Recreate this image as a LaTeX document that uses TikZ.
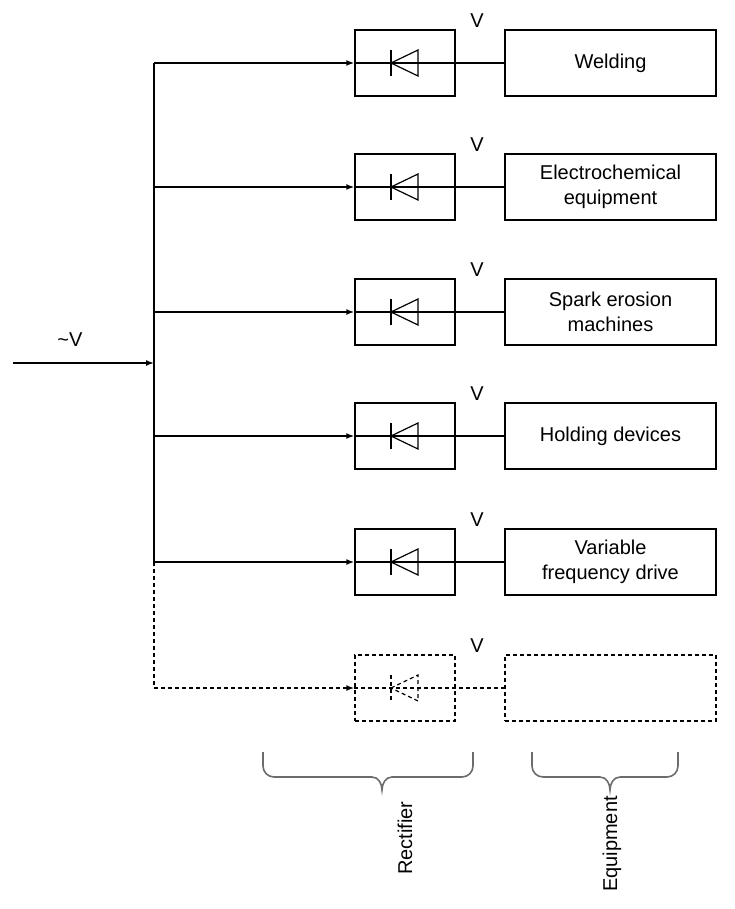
\documentclass[tikz,border=0pt]{standalone}
\usepackage{fontspec}
\setmainfont{Liberation Sans}
\usetikzlibrary{arrows.meta}
\begin{document}
\begin{tikzpicture}[x=1pt, y=-1pt,
  line width=1.5pt,
  every node/.style = {font=\fontsize{20}{25}\selectfont, align=center},
  rect/.style = {draw, minimum width=100pt, minimum height=66pt, inner sep=0pt},
  equip/.style = {draw, minimum width=211pt, minimum height=66pt, inner sep=0pt},
  feed/.style = {-{Latex[length=8pt,width=6pt]}},
  dashline/.style = {dash pattern=on 4pt off 3pt},
  curly/.style = {draw=gray!85!black, line width=1.6pt}
  ]
  \useasboundingbox (0,0) rectangle (734,909);
  % rectifiers and equipment
  \node[rect] (r1) at (405,63) {};
  \node[rect] (r2) at (405,187) {};
  \node[rect] (r3) at (405,312) {};
  \node[rect] (r4) at (405,436) {};
  \node[rect] (r5) at (405,562) {};
  \node[rect, dashline] (r6) at (405,688) {};
  \node[equip] (e1) at (610.5,63) {Welding};
  \node[equip] (e2) at (610.5,187) {Electrochemical\\equipment};
  \node[equip] (e3) at (610.5,312) {Spark erosion\\machines};
  \node[equip] (e4) at (610.5,436) {Holding devices};
  \node[equip] (e5) at (610.5,562) {Variable\\frequency drive};
  \node[equip, dashline] (e6) at (610.5,688) {};
  % bus
  \coordinate (in) at (13,363);
  \coordinate (bin) at (154,363);
  \coordinate (b1) at (154,63);
  \coordinate (b2) at (154,187);
  \coordinate (b3) at (154,312);
  \coordinate (b4) at (154,436);
  \coordinate (b5) at (154,562);
  \coordinate (b6) at (154,688);
  \node (vin) at (70,340) {\textasciitilde V};
  \draw[feed] (in) -- (bin);
  \draw (b1) -- (b5);
  \draw[dashline] (b5) -- (b6);
  \foreach \i in {1,...,5} {
    \draw[feed] (b\i) -- (r\i.west);
    \draw (r\i.west) -- (e\i.west);
  }
  \draw[feed, dashline] (b6) -- (r6.west);
  \draw[dashline] (r6.west) -- (e6.west);
  % diodes
  \foreach \i in {1,...,6} {
    \ifnum\i=6 \tikzset{diode/.style={line width=1.2pt, dashline}}
    \else \tikzset{diode/.style={line width=1.2pt}}\fi
    \draw[diode] ([shift={(-14,-13)}]r\i.center) -- ([shift={(-14,13)}]r\i.center);
    \draw[diode] ([shift={(-14,0)}]r\i.center) -- ([shift={(13,-13)}]r\i.center)
      -- ([shift={(13,13)}]r\i.center) -- cycle;
    \node (v\i) at ([shift={(72,-42)}]r\i.center) {V};
  }
  % braces
  \draw[curly] (263,752) -- (263,766) to[out=-90,in=180] (274,777) -- (372,777)
    to[out=0,in=90] (382,790) to[out=90,in=180] (392,777) -- (462,777)
    to[out=0,in=-90] (473,766) -- (473,752);
  \draw[curly] (532,752) -- (532,766) to[out=-90,in=180] (543,777) -- (600,777)
    to[out=0,in=90] (610,790) to[out=90,in=180] (620,777) -- (667,777)
    to[out=0,in=-90] (678,766) -- (678,752);
  \node[rotate=90] (lrect) at (405,838) {Rectifier};
  \node[rotate=90] (lequip) at (612,844) {Equipment};
\end{tikzpicture}
\end{document}
